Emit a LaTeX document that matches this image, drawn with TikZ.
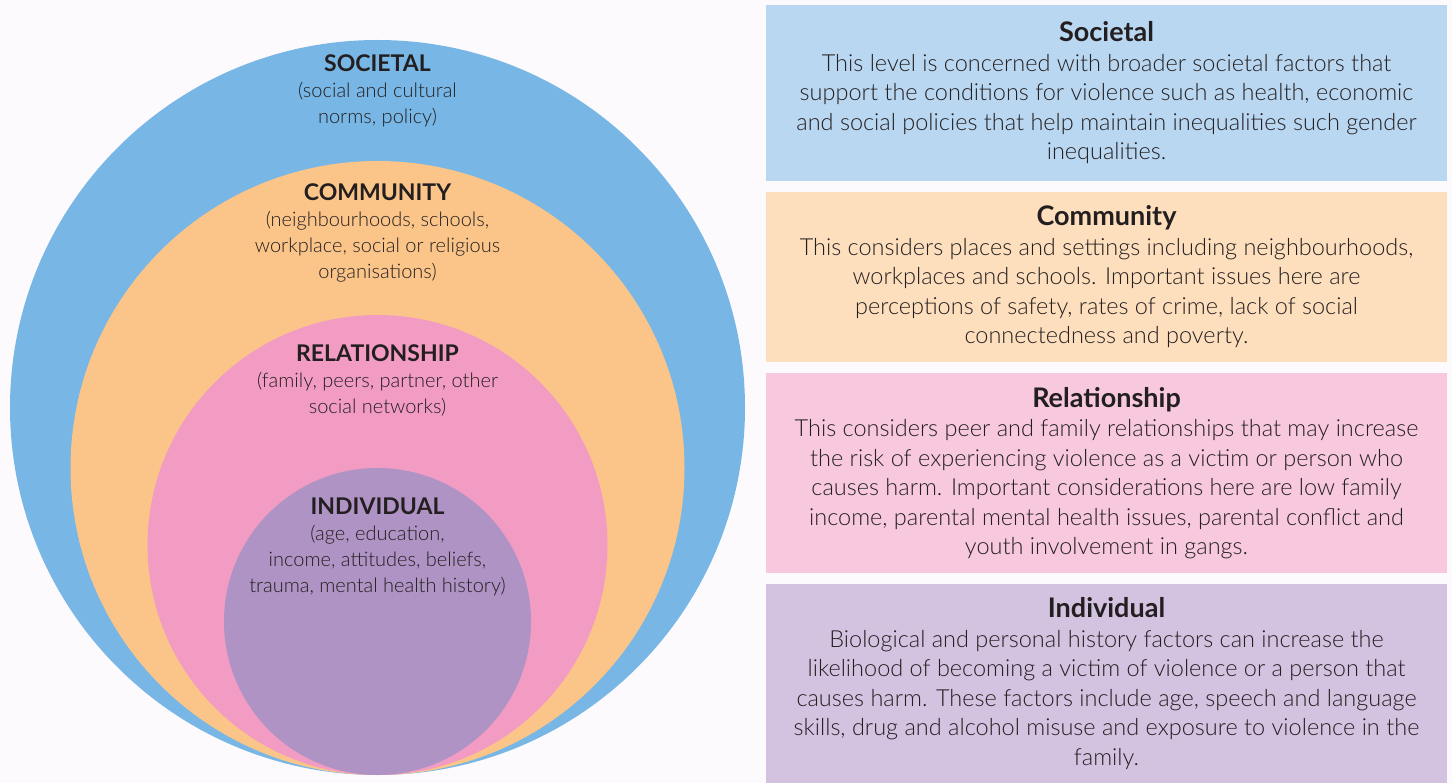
\documentclass[tikz,border=0pt]{standalone}
\usepackage{fontspec}
\setmainfont{Lato}[UprightFont=* Light, BoldFont=* Bold]
\usetikzlibrary{positioning}
\definecolor{pagebg}{HTML}{FDFAFD}
\definecolor{inktext}{HTML}{231F20}
\definecolor{ringblue}{HTML}{78B7E5}
\definecolor{ringorange}{HTML}{FBC58A}
\definecolor{ringpink}{HTML}{F29CC3}
\definecolor{ringpurple}{HTML}{AF93C4}
\definecolor{boxblue}{HTML}{BAD7F1}
\definecolor{boxorange}{HTML}{FDDEBD}
\definecolor{boxpink}{HTML}{F7C8DE}
\definecolor{boxpurple}{HTML}{D3C3E1}
\newcommand{\ringtitle}[1]{{\fontsize{23}{26}\selectfont\bfseries #1}}
\newcommand{\boxtitle}[1]{{\fontsize{27}{29.5}\selectfont\bfseries #1}}

\begin{document}
\begin{tikzpicture}[x=1pt,y=-1pt,
    ringlabel/.style={align=center,text=inktext,inner sep=0pt,font=\fontsize{20}{26}\selectfont},
    levelbox/.style={rectangle,minimum width=681pt,inner sep=0pt,outer sep=0pt,
      align=center,text=inktext,font=\fontsize{23.5}{29.5}\selectfont}]
		\fill [pagebg] (0,0) rectangle (1452,783);
		\useasboundingbox (0,0) rectangle (1452,783);
		% nested levels, all touching at the bottom
		\fill [ringblue] (377.5,407.5) circle [radius=367.5pt];
		\fill [ringorange] (377.5,468) circle [radius=307pt];
		\fill [ringpink] (377.5,545) circle [radius=230pt];
		\fill [ringpurple] (377.5,621.5) circle [radius=153.5pt];
		\node [ringlabel] (societal) at (377.5,91) {\ringtitle{SOCIETAL}\\(social and cultural\\norms, policy)};
		\node [ringlabel] (community) at (377.5,232.5) {\ringtitle{COMMUNITY}\\(neighbourhoods, schools,\\workplace, social or religious\\organisations)};
		\node [ringlabel] (relationship) at (377.5,380.5) {\ringtitle{RELATIONSHIP}\\(family, peers, partner, other\\social networks)};
		\node [ringlabel] (individual) at (377.5,546.5) {\ringtitle{INDIVIDUAL}\\(age, education,\\income, attitudes, beliefs,\\trauma, mental health history)};
		% descriptions
		\node [levelbox,fill=boxblue,minimum height=176pt] (societalbox) at (1106.5,93) {\boxtitle{Societal}\\This level is concerned with broader societal factors that\\support the conditions for violence such as health, economic\\and social policies that help maintain inequalities such gender\\inequalities.};
		\node [levelbox,fill=boxorange,minimum height=170pt,below=11pt of societalbox] (communitybox) {\boxtitle{Community}\\This considers places and settings including neighbourhoods,\\workplaces and schools. Important issues here are\\perceptions of safety, rates of crime, lack of social\\connectedness and poverty.};
		\node [levelbox,fill=boxpink,minimum height=200pt,below=11pt of communitybox] (relationshipbox) {\boxtitle{Relationship}\\This considers peer and family relationships that may increase\\the risk of experiencing violence as a victim or person who\\causes harm. Important considerations here are low family\\income, parental mental health issues, parental conflict and\\youth involvement in gangs.};
		\node [levelbox,fill=boxpurple,minimum height=199pt,below=11pt of relationshipbox] (individualbox) {\boxtitle{Individual}\\Biological and personal history factors can increase the\\likelihood of becoming a victim of violence or a person that\\causes harm. These factors include age, speech and language\\skills, drug and alcohol misuse and exposure to violence in the\\family.};
\end{tikzpicture}
\end{document}
